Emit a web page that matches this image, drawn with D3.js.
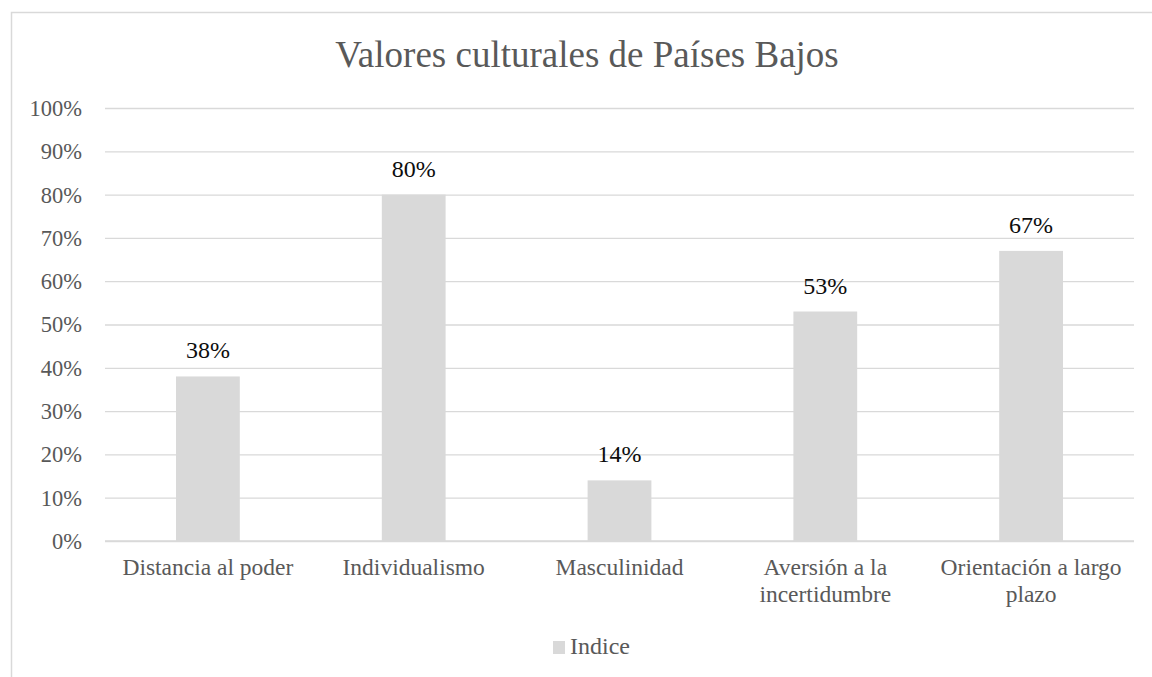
<!DOCTYPE html>
<html>
<head>
<meta charset="utf-8">
<script src="https://cdn.jsdelivr.net/npm/d3@7"></script>
<style>
  html, body { margin: 0; padding: 0; background: #fff; }
  svg { display: block; }
</style>
</head>
<body>
<div id="chart"></div>
<script>
const width = 1152;
const height = 677;

// Data
const categories = [
  ["Distancia al poder"],
  ["Individualismo"],
  ["Masculinidad"],
  ["Aversión a la", "incertidumbre"],
  ["Orientación a largo", "plazo"]
];
const values = [0.38, 0.80, 0.14, 0.53, 0.67];
const yTicks = [0, 0.1, 0.2, 0.3, 0.4, 0.5, 0.6, 0.7, 0.8, 0.9, 1.0];
const seriesName = "Indice";
const title = "Valores culturales de Países Bajos";

const FONT = "Liberation Serif";
const margin = { left: 105, right: 18, top: 108, bottom: 136 };

const svg = d3.select('#chart')
  .append('svg')
  .attr('width', width)
  .attr('height', height)
  .attr('font-family', FONT);

// Chart frame (runs past the right / bottom edge)
svg.append('rect')
  .attr('x', 11.5)
  .attr('y', 12.5)
  .attr('width', width + 20)
  .attr('height', height + 20)
  .attr('fill', 'none')
  .attr('stroke', '#d9d9d9')
  .attr('stroke-width', 1.5);

const x = d3.scaleBand()
  .domain(d3.range(categories.length))
  .range([margin.left, width - margin.right])
  .paddingInner(0.69)
  .paddingOuter(0.345);

const y = d3.scaleLinear()
  .domain([0, 1])
  .range([height - margin.bottom, margin.top]);

// Gridlines + y labels
const yAxis = svg.append('g')
  .attr('transform', `translate(${margin.left},0)`)
  .call(d3.axisLeft(y)
    .tickValues(yTicks)
    .tickSize(-(width - margin.left - margin.right))
    .tickPadding(23)
    .tickFormat(d3.format('.0%')))
  .attr('font-family', FONT)
  .attr('font-size', 22.5);

yAxis.select('.domain').remove();
yAxis.selectAll('.tick line')
  .attr('stroke', '#d9d9d9')
  .attr('stroke-width', 1.3);
yAxis.selectAll('.tick text')
  .attr('fill', '#595959')
  .attr('dy', '0.33em');

// Bars
svg.append('g')
  .selectAll('rect')
  .data(values)
  .join('rect')
    .attr('x', (d, i) => x(i))
    .attr('y', d => y(d))
    .attr('width', x.bandwidth())
    .attr('height', d => y(0) - y(d))
    .attr('fill', '#d9d9d9');

// Axis baseline
svg.append('line')
  .attr('x1', margin.left)
  .attr('x2', width - margin.right)
  .attr('y1', y(0))
  .attr('y2', y(0))
  .attr('stroke', '#d9d9d9')
  .attr('stroke-width', 1.3);

// Data labels
svg.append('g')
  .selectAll('text')
  .data(values)
  .join('text')
    .attr('x', (d, i) => x(i) + x.bandwidth() / 2)
    .attr('y', d => y(d) - 18)
    .attr('text-anchor', 'middle')
    .attr('font-size', 24)
    .attr('fill', '#0d0d0d')
    .text(d => d3.format('.0%')(d));

// Category labels
const cat = svg.append('g')
  .selectAll('text')
  .data(categories)
  .join('text')
    .attr('x', (d, i) => x(i) + x.bandwidth() / 2)
    .attr('y', y(0) + 34)
    .attr('text-anchor', 'middle')
    .attr('font-size', 23.5)
    .attr('fill', '#595959');

cat.selectAll('tspan')
  .data(d => d)
  .join('tspan')
    .attr('x', function() { return this.parentNode.getAttribute('x'); })
    .attr('dy', (d, i) => i === 0 ? 0 : 27)
    .text(d => d);

// Title
svg.append('text')
  .attr('x', 587)
  .attr('y', 67)
  .attr('text-anchor', 'middle')
  .attr('font-size', 37)
  .attr('fill', '#595959')
  .text(title);

// Legend
const legend = svg.append('g')
  .attr('transform', `translate(553,641)`);
legend.append('rect')
  .attr('width', 12)
  .attr('height', 13)
  .attr('fill', '#d9d9d9');
legend.append('text')
  .attr('x', 17)
  .attr('y', 13)
  .attr('font-size', 24)
  .attr('fill', '#595959')
  .text(seriesName);
</script>
</body>
</html>
